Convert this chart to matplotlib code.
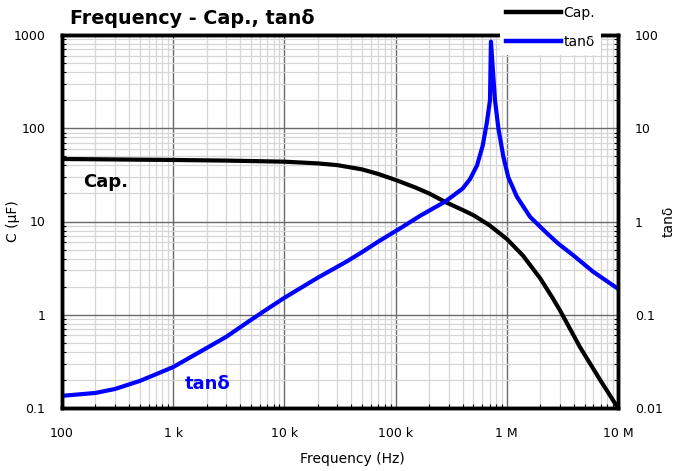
import matplotlib
matplotlib.use("Agg")
import matplotlib.pyplot as plt
from matplotlib.ticker import FixedLocator, FixedFormatter, LogLocator, NullFormatter
from matplotlib.lines import Line2D

plt.rcParams['font.family'] = ['DejaVu Sans']

# Capacitance data (left axis, uF)
cap_freq = [100, 200, 500, 1e3, 3e3, 1e4, 2e4, 3e4, 5e4, 7e4, 1e5, 1.5e5, 2e5, 2.8e5,
            4e5, 5e5, 7e5, 1e6, 1.4e6, 2e6, 2.55e6, 3e6, 4.55e6, 7e6, 1e7]
cap_val = [46.8, 46.5, 46.0, 45.7, 45.0, 43.8, 42.0, 40.2, 36.2, 32.3, 27.9, 23.2, 20.0, 16.2,
           13.3, 11.7, 9.1, 6.5, 4.3, 2.45, 1.55, 1.12, 0.45, 0.195, 0.1]

# tan delta data (right axis)
tan_freq = [100, 200, 300, 500, 700, 1e3, 2e3, 3e3, 5e3, 7e3, 1e4, 2e4, 3.6e4, 5e4, 7e4, 1.1e5,
            1.66e5, 2.78e5, 4e5, 4.67e5, 5.4e5, 6.07e5, 6.6e5, 7.06e5, 7.2e5, 7.83e5, 8.4e5, 9.3e5,
            1.03e6, 1.23e6, 1.62e6, 2.29e6, 2.9e6, 4e6, 5.96e6, 1e7]
tan_val = [0.0135, 0.0145, 0.016, 0.0195, 0.023, 0.0275, 0.044, 0.058, 0.088, 0.115, 0.152, 0.25,
           0.37, 0.47, 0.61, 0.845, 1.15, 1.63, 2.25, 2.85, 4.0, 6.5, 11.3, 20, 85, 20, 10, 5.0,
           3.0, 1.85, 1.12, 0.75, 0.58, 0.43, 0.29, 0.19]

x_ticks = [1e2, 1e3, 1e4, 1e5, 1e6, 1e7]
x_labels = ['100', '1 k', '10 k', '100 k', '1 M', '10 M']
yl_ticks = [0.1, 1, 10, 100, 1000]
yl_labels = ['0.1', '1', '10', '100', '1000']
yr_ticks = [0.01, 0.1, 1, 10, 100]
yr_labels = ['0.01', '0.1', '1', '10', '100']

W, H = 687, 471
fig = plt.figure(figsize=(W/100, H/100), dpi=100)
ax = fig.add_axes([62/W, 1-408/H, 556/W, 373/H])
ax2 = ax.twinx()

ax.set_xscale('log')
ax.set_yscale('log')
ax2.set_yscale('log')
ax.set_xlim(1e2, 1e7)
ax.set_ylim(0.1, 1000)
ax2.set_ylim(0.01, 100)

ax.grid(which='minor', color='#d6d6d6', lw=0.9)
ax.grid(which='major', color='#6a6a6a', lw=1.0)
ax.set_axisbelow(True)

ax.xaxis.set_major_locator(FixedLocator(x_ticks))
ax.xaxis.set_major_formatter(FixedFormatter(x_labels))
ax.xaxis.set_minor_locator(LogLocator(base=10, subs=range(2, 10), numticks=20))
ax.xaxis.set_minor_formatter(NullFormatter())
ax.yaxis.set_major_locator(FixedLocator(yl_ticks))
ax.yaxis.set_major_formatter(FixedFormatter(yl_labels))
ax.yaxis.set_minor_locator(LogLocator(base=10, subs=range(2, 10), numticks=20))
ax.yaxis.set_minor_formatter(NullFormatter())
ax2.yaxis.set_major_locator(FixedLocator(yr_ticks))
ax2.yaxis.set_major_formatter(FixedFormatter(yr_labels))
ax2.yaxis.set_minor_locator(LogLocator(base=10, subs=range(2, 10), numticks=20))
ax2.yaxis.set_minor_formatter(NullFormatter())

for a in (ax, ax2):
    a.tick_params(which='both', direction='in', labelsize=9, colors='black')
    a.tick_params(which='major', length=0, pad=12)
    a.tick_params(which='minor', length=3, width=0.8)
    for s in a.spines.values():
        s.set_linewidth(2.5)
ax.tick_params(axis='x', which='major', pad=14)

ax.plot(cap_freq, cap_val, color='black', lw=3, solid_capstyle='round', solid_joinstyle='round')
ax2.plot(tan_freq, tan_val, color='#0000ff', lw=3, solid_capstyle='round', solid_joinstyle='round')

ax.set_xlabel('Frequency (Hz)', fontsize=10)
ax.xaxis.set_label_coords(0.523, -0.118)
ax.set_ylabel('C (μF)', fontsize=10)
ax.yaxis.set_label_coords(-0.075, 0.5)
ax2.set_ylabel('tanδ', fontsize=10)
ax2.yaxis.set_label_coords(1.079, 0.5)

fig.text(70/W, 1-18/H, 'Frequency - Cap., tanδ', fontsize=13.8, fontweight='bold', va='center', ha='left')
ax.text(0.0378, 0.5925, 'Cap.', transform=ax.transAxes, fontsize=13, fontweight='bold',
        color='black', va='baseline')
ax.text(0.2212, 0.050, 'tanδ', transform=ax.transAxes, fontsize=13, fontweight='bold',
        color='#0000ff', va='baseline')

handles = [Line2D([], [], color='black', lw=3.2), Line2D([], [], color='#0000ff', lw=3.2)]
leg = fig.legend(handles, ['Cap.', 'tanδ'], loc='upper left', bbox_to_anchor=(500/W, 1.0),
                 frameon=True, facecolor='white', edgecolor='none', fancybox=False, framealpha=1,
                 fontsize=10, handlelength=3.96, handletextpad=0.2, labelspacing=1.13,
                 borderpad=0.4, borderaxespad=0.0)

fig.savefig('out.png', dpi=100)
